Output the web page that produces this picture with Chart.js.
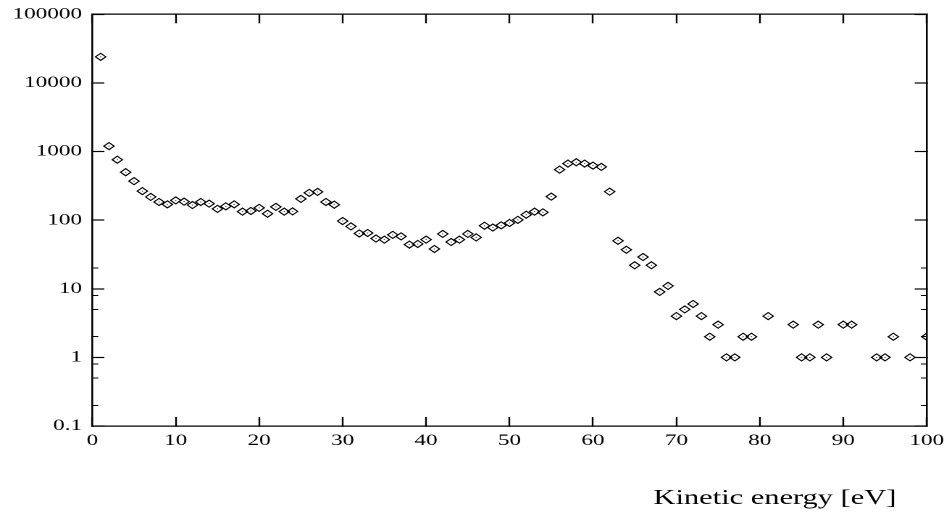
<!DOCTYPE html>
<html>
<head>
<meta charset="utf-8">
<script src="https://cdn.jsdelivr.net/npm/chart.js@4"></script>
<style>
  html, body { margin: 0; padding: 0; background: #fff; overflow: hidden; }
  #wrap { width: 655px; height: 515px; transform: scaleX(1.4489); transform-origin: 0 0; }
</style>
</head>
<body>
<div id="wrap"><canvas id="spectrum" width="655" height="515"></canvas></div>
<script>

// kinetic energy bins (eV) and counts per bin (null = empty bin)
var energies = [1,2,3,4,5,6,7,8,9,10,11,12,13,14,15,16,17,18,19,20,
  21,22,23,24,25,26,27,28,29,30,31,32,33,34,35,36,37,38,39,40,
  41,42,43,44,45,46,47,48,49,50,51,52,53,54,55,56,57,58,59,60,
  61,62,63,64,65,66,67,68,69,70,71,72,73,74,75,76,77,78,79,80,
  81,82,83,84,85,86,87,88,89,90,91,92,93,94,95,96,97,98,99,100];

var counts = [24000,1200,760,500,370,265,218,184,170,194,
  186,166,184,174,146,159,170,133,136,151,
  124,156,133,134,204,250,258,184,168,97,
  81,64,65,54,52,61,58,44,45,52,
  38,63,48,52,63,56,83,78,84,91,
  101,120,133,130,220,545,667,697,667,624,
  597,260,50,37,22,29,22,9,11,4,
  5,6,4,2,3,1,1,2,2,null,
  4,null,null,3,1,1,3,1,null,3,
  3,null,null,1,1,2,null,1,null,2];

var xTicks = [0,10,20,30,40,50,60,70,80,90,100];
var yTicks = [0.1,1,10,100,1000,10000,100000];
var yTickLabels = ['0.1','1','10','100','1000','10000','100000'];
var yMinorFactors = [2,5,8];
var xTitle = 'Kinetic energy [eV]';

var points = [];
for (var i = 0; i < energies.length; i++) {
  if (counts[i] !== null) points.push({x: energies[i], y: counts[i]});
}

var minorTicks = [];
yTicks.slice(0, -1).forEach(function(d){
  yMinorFactors.forEach(function(f){ minorTicks.push({value: f * d}); });
});

var black = '#000';

// the label overhang padding would shrink the plot area, so drop it
function noPadding(s){
  s.paddingLeft = 0; s.paddingRight = 0; s.paddingTop = 0; s.paddingBottom = 0;
}

function xAxis(position, showLabels){
  return {
    type: 'linear', position: position, min: 0, max: 100,
    afterBuildTicks: function(s){ s.ticks = xTicks.map(function(v){ return {value: v}; }); },
    grid: { drawOnChartArea: false, drawTicks: true, tickLength: -9, tickColor: black, tickWidth: 1.2 },
    border: { display: true, color: black, width: 1.3 },
    ticks: {
      display: showLabels, color: black, padding: 14, maxRotation: 0,
      font: { size: 16 },
      callback: function(v){ return String(v); }
    },
    afterFit: function(s){ s.height = showLabels ? 89 : 14.3; noPadding(s); }
  };
}

function yAxis(position, major, weight, width){
  return {
    type: 'logarithmic', position: position, min: 0.1, max: 100000, weight: weight,
    afterBuildTicks: function(s){
      s.ticks = major ? yTicks.map(function(v){ return {value: v}; }) : minorTicks.slice();
    },
    grid: { drawOnChartArea: false, drawTicks: true, tickLength: major ? -8.3 : -4.1, tickColor: black, tickWidth: major ? 1.2 : 1 },
    border: { display: major, color: black, width: 1.3 },
    ticks: {
      display: major && position === 'left', color: black, padding: 15.4,
      font: { size: 16 },
      callback: function(v, idx){ return yTickLabels[idx]; }
    },
    afterFit: function(s){ s.width = width; noPadding(s); }
  };
}

var xTitlePlugin = {
  id: 'xTitle',
  afterDraw: function(chart){
    var ctx = chart.ctx;
    ctx.save();
    ctx.font = '21px "Liberation Serif", serif';
    ctx.fillStyle = black;
    ctx.textAlign = 'right';
    ctx.textBaseline = 'alphabetic';
    ctx.fillText(xTitle, chart.chartArea.right - 21, 504);
    ctx.restore();
  }
};

Chart.defaults.font.family = "'Liberation Serif', 'Times New Roman', serif";
Chart.defaults.color = black;

var spectrum = document.getElementById('spectrum').getContext('2d');
new Chart(spectrum, {
  type: 'scatter',
  data: {
    datasets: [{
      data: points,
      pointStyle: 'rectRot',
      pointRadius: 3.55,
      pointHoverRadius: 3.55,
      borderColor: black,
      backgroundColor: 'rgba(255,255,255,0)',
      borderWidth: 1
    }, {
      data: points,
      pointStyle: 'circle',
      pointRadius: 0.5,
      borderWidth: 0,
      backgroundColor: '#333'
    }]
  },
  options: {
    responsive: false,
    animation: false,
    devicePixelRatio: 2,
    layout: { padding: 0 },
    plugins: { legend: { display: false }, tooltip: { enabled: false } },
    scales: {
      x: xAxis('bottom', true),
      xTop: xAxis('top', false),
      y: yAxis('left', true, 1, 63.7),
      yMinor: yAxis('left', false, 0, 0),
      yRight: yAxis('right', true, 1, 15.4),
      yRightMinor: yAxis('right', false, 0, 0)
    }
  },
  plugins: [xTitlePlugin]
});
</script>
</body>
</html>
